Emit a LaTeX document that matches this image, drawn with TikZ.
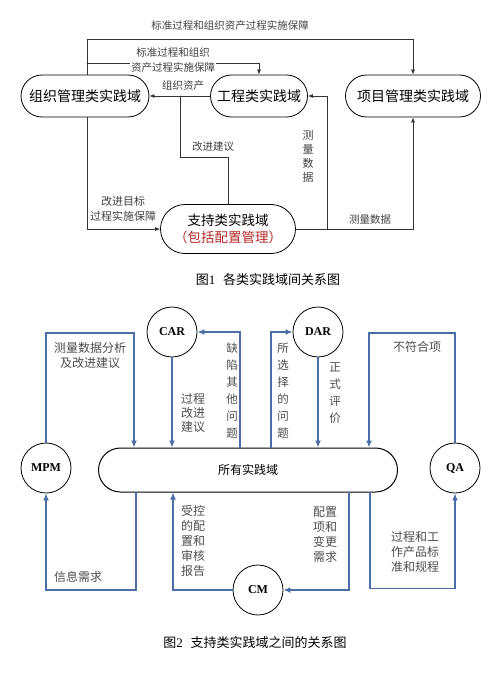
\documentclass[tikz,border=0pt]{standalone}
\usepackage{fontspec}
\setmainfont{Noto Sans CJK SC}
\newfontfamily\latinfont{Liberation Serif}
\usepackage{tikz}
\usetikzlibrary{calc,positioning,arrows.meta,shapes.misc}
\definecolor{FlowBlue}{RGB}{74,110,165}
\definecolor{NoteRed}{RGB}{180,40,40}
\begin{document}
\begin{tikzpicture}[x=1pt,y=-1pt,>={Latex[length=5pt,width=4pt]},line cap=round,
  areabox/.style={draw,rounded rectangle,minimum height=42pt,inner sep=0pt,line width=0.8pt,font=\fontsize{14}{18}\selectfont},
  link/.style={->,line width=0.7pt,draw=black!80},
  note/.style={font=\fontsize{10.5}{14}\selectfont,text=black!75,align=center,inner sep=1pt},
  vnote/.style={font=\fontsize{11.5}{17}\selectfont,text=black!70,align=center,inner sep=1pt},
  prac/.style={draw,circle,minimum size=50pt,inner sep=0pt,line width=0.8pt,font=\latinfont\bfseries\fontsize{12}{14}\selectfont},
  hub/.style={draw,rounded rectangle,minimum width=299pt,minimum height=44pt,inner sep=0pt,line width=1pt,font=\fontsize{12}{14}\selectfont},
  sflow/.style={-{Latex[length=7pt,width=6pt]},line width=1.6pt,draw=FlowBlue},
  caption/.style={font=\fontsize{13}{15}\selectfont}]
\useasboundingbox (0,0) rectangle (500,674);
% figure 1
\node[areabox,minimum width=128pt] (zz) at (85,96) {组织管理类实践域};
\node[areabox,minimum width=97pt] (gc) at (259,96) {工程类实践域};
\node[areabox,minimum width=135pt] (xm) at (413,96) {项目管理类实践域};
\node[areabox,minimum width=135pt,minimum height=49pt,align=center,font=\fontsize{13.5}{17}\selectfont] (zc) at (228,229) {支持类实践域\\\textcolor{NoteRed}{（包括配置管理）}};
\coordinate (t1) at (87,39); \coordinate (t2) at (87,63);
\coordinate (jb) at (180,96); \coordinate (jv) at (180,157);
\coordinate (cr) at (327,229);
\draw[link] ([xshift=2pt]zz.north) -- (t1) -| (xm.north);
\draw[link] (t2) -| (gc.north);
\draw[link] (gc.west) -- (zz.east);
\draw[link,-] (zc.north) |- (jv) -- (jb);
\draw[link] ([xshift=2pt]zz.south) |- (zc.west);
\draw[link] (zc.east) -- (cr) |- (gc.east);
\draw[link] (cr) -| (xm.south);
\node[note] (l1) at (230,26) {标准过程和组织资产过程实施保障};
\node[note,fill=white,font=\fontsize{10.5}{15}\selectfont] (l2) at (173,60) {标准过程和组织\\资产过程实施保障};
\node[note] (l3) at (183,86) {组织资产};
\node[note] (l4) at (213,147) {改进建议};
\node[note,font=\fontsize{11}{14}\selectfont] (l5) at (308,156) {测\\量\\数\\据};
\node[note,font=\fontsize{11}{15}\selectfont] (l6) at (123,209) {改进目标\\过程实施保障};
\node[note] (l7) at (370,220) {测量数据};
\node[caption] (cap1) at (268,280) {图{\latinfont 1}\hspace{0.6em}各类实践域间关系图};
% figure 2
\node[hub] (all) at (248,470) {所有实践域};
\node[prac] (car) at (172,332) {CAR};
\node[prac] (dar) at (318,332) {DAR};
\node[prac] (mpm) at (46,468) {MPM};
\node[prac] (qa) at (455,468) {QA};
\node[prac] (cm) at (258,590) {CM};
\coordinate (a1) at (134,333); \coordinate (a6) at (369,333);
\coordinate (b1) at (136,590);
\draw[sflow] (mpm.north) |- (a1) -- (a1 |- all.north);
\draw[sflow] (car.south) -- (car.south |- all.north);
\draw[sflow] ([xshift=-8pt]all.north) |- (car.east);
\draw[sflow] ([xshift=23pt]all.north) |- (dar.west);
\draw[sflow] (dar.south) -- (dar.south |- all.north);
\draw[sflow] (qa.north) |- (a6) -- (a6 |- all.north);
\draw[sflow] (b1 |- all.south) -- (b1) -| (mpm.south);
\draw[sflow] (cm.west) -| ([xshift=-75pt]all.south);
\draw[sflow] ([xshift=101pt]all.south) |- (cm.east);
\draw[sflow] ([xshift=122pt]all.south) -- ++(0,96) -| (qa.south);
\node[vnote,font=\fontsize{12}{15}\selectfont] (m1) at (90,355) {测量数据分析\\及改进建议};
\node[vnote,font=\fontsize{12}{14}\selectfont] (m2) at (193,413) {过程\\改进\\建议};
\node[vnote] (m3) at (232,391) {缺\\陷\\其\\他\\问\\题};
\node[vnote] (m4) at (283,391) {所\\选\\择\\的\\问\\题};
\node[vnote] (m5) at (335,393) {正\\式\\评\\价};
\node[vnote,font=\fontsize{12}{15}\selectfont] (m6) at (417,347) {不符合项};
\node[vnote,font=\fontsize{12}{15}\selectfont] (m7) at (78,577) {信息需求};
\node[vnote,font=\fontsize{12}{15}\selectfont] (m8) at (193,541) {受控\\的配\\置和\\审核\\报告};
\node[vnote,font=\fontsize{12}{15}\selectfont] (m9) at (325,535) {配置\\项和\\变更\\需求};
\node[vnote,font=\fontsize{12}{15}\selectfont] (m10) at (415,552) {过程和工\\作产品标\\准和规程};
\node[caption] (cap2) at (255,643) {图{\latinfont 2}\hspace{0.6em}支持类实践域之间的关系图};
\end{tikzpicture}
\end{document}
